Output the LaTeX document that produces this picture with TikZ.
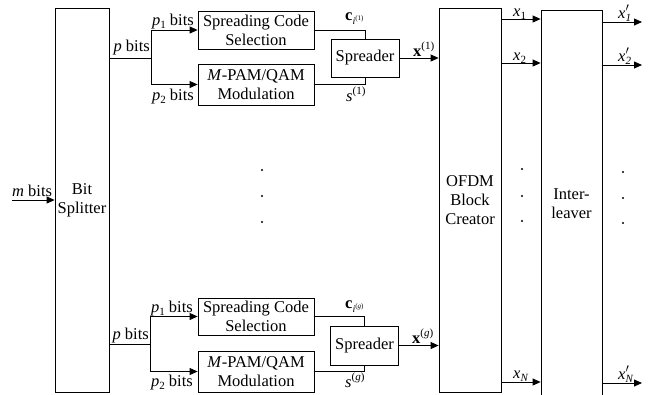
\documentclass[tikz,border=0pt]{standalone}
\usepackage{fontspec}
\setmainfont{Liberation Serif}
\usetikzlibrary{arrows.meta}

% small raised / lowered indices set in the text font
\newcommand{\lowidx}[1]{\raisebox{-0.45ex}{\fontsize{11}{11}\selectfont #1}}
\newcommand{\upidx}[1]{\raisebox{0.8ex}{\fontsize{11}{11}\selectfont #1}}
\newcommand{\codeidx}[1]{\raisebox{-0.55ex}{\fontsize{10}{10}\selectfont\textit{i}\raisebox{0.75ex}{\fontsize{7}{7}\selectfont(#1)}}}
\newcommand{\primedx}[1]{\textit{x}\rlap{\raisebox{0.9ex}{\fontsize{12}{12}\selectfont$\prime$}}\lowidx{\textit{#1}}}

\tikzset{
  every node/.style={font=\fontsize{16.5}{19}\selectfont},
  blk/.style={draw, line width=0.8pt, align=center, inner sep=0pt},
  lbl/.style={inner sep=0pt},
  wire/.style={line width=0.8pt},
  arr/.style={line width=0.8pt, -{Triangle[length=8pt,width=7pt]}},
  dotmark/.style={fill=black},
}

\begin{document}
\begin{tikzpicture}[x=1pt, y=-1pt]
\useasboundingbox (0,0) rectangle (653,394);

% main blocks
\node[blk, minimum width=54pt, minimum height=384pt] (split) at (82,200) {Bit\\Splitter};
\node[blk, minimum width=62pt, minimum height=384pt] (ofdm) at (470,200) {OFDM\\Block\\Creator};
\node[blk, minimum width=61pt, minimum height=388pt] (ilv) at (571.5,204) {Inter-\\leaver};

% input
\coordinate (in) at (12,200);
\draw[arr] (in) -- (in -| split.west);
\node[lbl, anchor=base west] (mlab) at (12,196) {\textit{m} bits};

% branch 1
\node[blk, minimum width=116pt, minimum height=38pt] (scs1) at (256,30) {Spreading Code\\Selection};
\node[blk, minimum width=116pt, minimum height=41pt] (mod1) at (256,84.5) {\textit{M}-PAM/QAM\\Modulation};
\node[blk, minimum width=68pt, minimum height=38pt] (spr1) at (365,58) {Spreader};
\coordinate (br1) at (151,58);
\draw[wire] (split.east |- br1) -- (br1);
\draw[arr] (br1) |- (scs1.west);
\draw[arr] (br1) |- (mod1.west);
\draw[wire] (scs1.east) -| (spr1.north);
\draw[wire] (mod1.east) -| (spr1.south);
\draw[arr] (spr1.east) -- (spr1.east -| ofdm.west);
\node[lbl, anchor=base east] (pb1) at (150,51) {\textit{p} bits};
\node[lbl, anchor=base east] (p1a) at (194,25) {\textit{p}\lowidx{1} bits};
\node[lbl, anchor=base east] (p2a) at (194,100) {\textit{p}\lowidx{2} bits};
\node[lbl, anchor=base west] (c1) at (345,20) {\textbf{c}\codeidx{1}};
\node[lbl, anchor=base west] (s1) at (346,101) {\textit{s}\upidx{(1)}};
\node[lbl, anchor=base west] (xv1) at (413,56) {\textbf{x}\upidx{(1)}};

% branch g
\node[blk, minimum width=116pt, minimum height=37pt] (scs2) at (256,316.5) {Spreading Code\\Selection};
\node[blk, minimum width=116pt, minimum height=41pt] (mod2) at (256,371.5) {\textit{M}-PAM/QAM\\Modulation};
\node[blk, minimum width=68pt, minimum height=39pt] (spr2) at (364.5,345.5) {Spreader};
\coordinate (br2) at (150,344);
\draw[wire] (split.east |- br2) -- (br2);
\draw[arr] (br2) |- (scs2.west);
\draw[arr] (br2) |- (mod2.west);
\draw[wire] (scs2.east) -| (spr2.north);
\draw[wire] (mod2.east) -| (spr2.south);
\draw[arr] (spr2.east) -- (spr2.east -| ofdm.west);
\node[lbl, anchor=base east] (pb2) at (149,339) {\textit{p} bits};
\node[lbl, anchor=base east] (p1b) at (193,312) {\textit{p}\lowidx{1} bits};
\node[lbl, anchor=base east] (p2b) at (193,386) {\textit{p}\lowidx{2} bits};
\node[lbl, anchor=base west] (c2) at (345,308) {\textbf{c}\codeidx{\textit{g}}};
\node[lbl, anchor=base west] (s2) at (345,387) {\textit{s}\upidx{(\textit{g})}};
\node[lbl, anchor=base west] (xv2) at (412,343) {\textbf{x}\upidx{(\textit{g})}};

% OFDM outputs
\foreach \yy in {19, 63, 382} {
  \draw[arr] (ofdm.east |- 0,\yy) -- (ilv.west |- 0,\yy);
}
\node[lbl, anchor=base west] (x1) at (513,16) {\textit{x}\lowidx{1}};
\node[lbl, anchor=base west] (x2) at (513,60) {\textit{x}\lowidx{2}};
\node[lbl, anchor=base west] (xN) at (513,378) {\textit{x}\lowidx{\textit{N}}};

% interleaver outputs
\coordinate (o1) at (642,22);
\coordinate (o2) at (642,65);
\coordinate (oN) at (642,383);
\draw[arr] (ilv.east |- o1) -- (o1);
\draw[arr] (ilv.east |- o2) -- (o2);
\draw[arr] (ilv.east |- oN) -- (oN);
\node[lbl, anchor=base west] (y1) at (618,18) {\primedx{1}};
\node[lbl, anchor=base west] (y2) at (618,61) {\primedx{2}};
\node[lbl, anchor=base west] (yN) at (618,379) {\primedx{N}};

% vertical ellipses
\foreach \px/\pa/\pb/\pc in {262/170/196/222, 522/169/196/221, 623/172/198/223} {
  \fill[dotmark] (\px,\pa) circle (1.1pt);
  \fill[dotmark] (\px,\pb) circle (1.1pt);
  \fill[dotmark] (\px,\pc) circle (1.1pt);
}
\end{tikzpicture}
\end{document}
